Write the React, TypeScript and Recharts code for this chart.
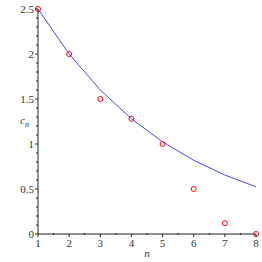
import React from "react";
import { ComposedChart, Line, XAxis, YAxis } from "recharts";

const nValues = [1, 2, 3, 4, 5, 6, 7, 8];
const curveValues = [2.5, 2.0, 1.6, 1.28, 1.024, 0.819, 0.655, 0.524];
const pointValues = [2.5, 2.0, 1.5, 1.28, 1.0, 0.5, 0.12, 0.0];
const xTicks = [1, 1.5, 2, 2.5, 3, 3.5, 4, 4.5, 5, 5.5, 6, 6.5, 7, 7.5, 8];
const yTicks = [0, 0.1, 0.2, 0.3, 0.4, 0.5, 0.6, 0.7, 0.8, 0.9, 1, 1.1, 1.2, 1.3, 1.4, 1.5, 1.6, 1.7, 1.8, 1.9, 2, 2.1, 2.2, 2.3, 2.4, 2.5];

const data = nValues.map((n, i) => ({ n, curve: curveValues[i], pt: pointValues[i] }));

const FONT = "Liberation Serif";
const AXIS = "#222";
const textStyle = { fontFamily: FONT, fontSize: 11 } as React.CSSProperties;

const isMajorX = (v: number) => Math.abs(v - Math.round(v)) < 1e-6;
const isMajorY = (v: number) => Math.abs(v * 2 - Math.round(v * 2)) < 1e-6;

const XTick = (props: any) => {
  const { x, y, payload } = props;
  const v = payload.value;
  const major = isMajorX(v);
  return (
    <g>
      <line x1={x} x2={x} y1={y - (major ? 0 : 1)} y2={y + (major ? 3 : 1)} stroke={AXIS} strokeWidth={1} />
      {major && (
        <text x={x} y={y + 13} textAnchor="middle" style={textStyle} fill="#333">
          {v}
        </text>
      )}
    </g>
  );
};

const YTick = (props: any) => {
  const { x, y, payload } = props;
  const v = payload.value;
  const major = isMajorY(v);
  return (
    <g>
      <line x1={x - (major ? 3 : 2)} x2={x} y1={y} y2={y} stroke={AXIS} strokeWidth={1} />
      {major && (
        <text x={x - 4} y={y + 3.5} textAnchor="end" style={textStyle} fill="#333">
          {v}
        </text>
      )}
    </g>
  );
};

export default function App() {
  return (
    <div style={{ position: "absolute", left: 0, top: 0, width: 262, height: 262, background: "#fff" }}>
      <ComposedChart width={262} height={262} data={data} margin={{ top: 9, right: 6, bottom: 0, left: 0 }}>
        <XAxis
          type="number"
          dataKey="n"
          domain={[1, 8]}
          ticks={xTicks}
          interval={0}
          tickSize={0}
          tickMargin={0}
          tick={<XTick />}
          height={28}
          stroke={AXIS}
          label={{
            content: () => (
              <text x={147} y={257} textAnchor="middle" style={{ ...textStyle, fontStyle: "italic" }} fill="#333">
                n
              </text>
            ),
          }}
        />
        <YAxis
          type="number"
          domain={[0, 2.5]}
          ticks={yTicks}
          interval={0}
          tickSize={0}
          tickMargin={0}
          tick={<YTick />}
          width={38}
          stroke={AXIS}
          label={{
            content: () => (
              <text x={20} y={124} style={{ ...textStyle, fontStyle: "italic" }} fill="#333">
                c
                <tspan dy={3} style={{ fontSize: 8 }}>n</tspan>
              </text>
            ),
          }}
        />
        <Line
          type="linear"
          dataKey="curve"
          stroke="#3030ff"
          strokeWidth={0.9}
          dot={false}
          isAnimationActive={false}
        />
        <Line
          type="linear"
          dataKey="pt"
          stroke="none"
          dot={{ r: 2.5, stroke: "#ff0000", strokeWidth: 1, fill: "none" }}
          activeDot={false}
          isAnimationActive={false}
        />
      </ComposedChart>
    </div>
  );
}
